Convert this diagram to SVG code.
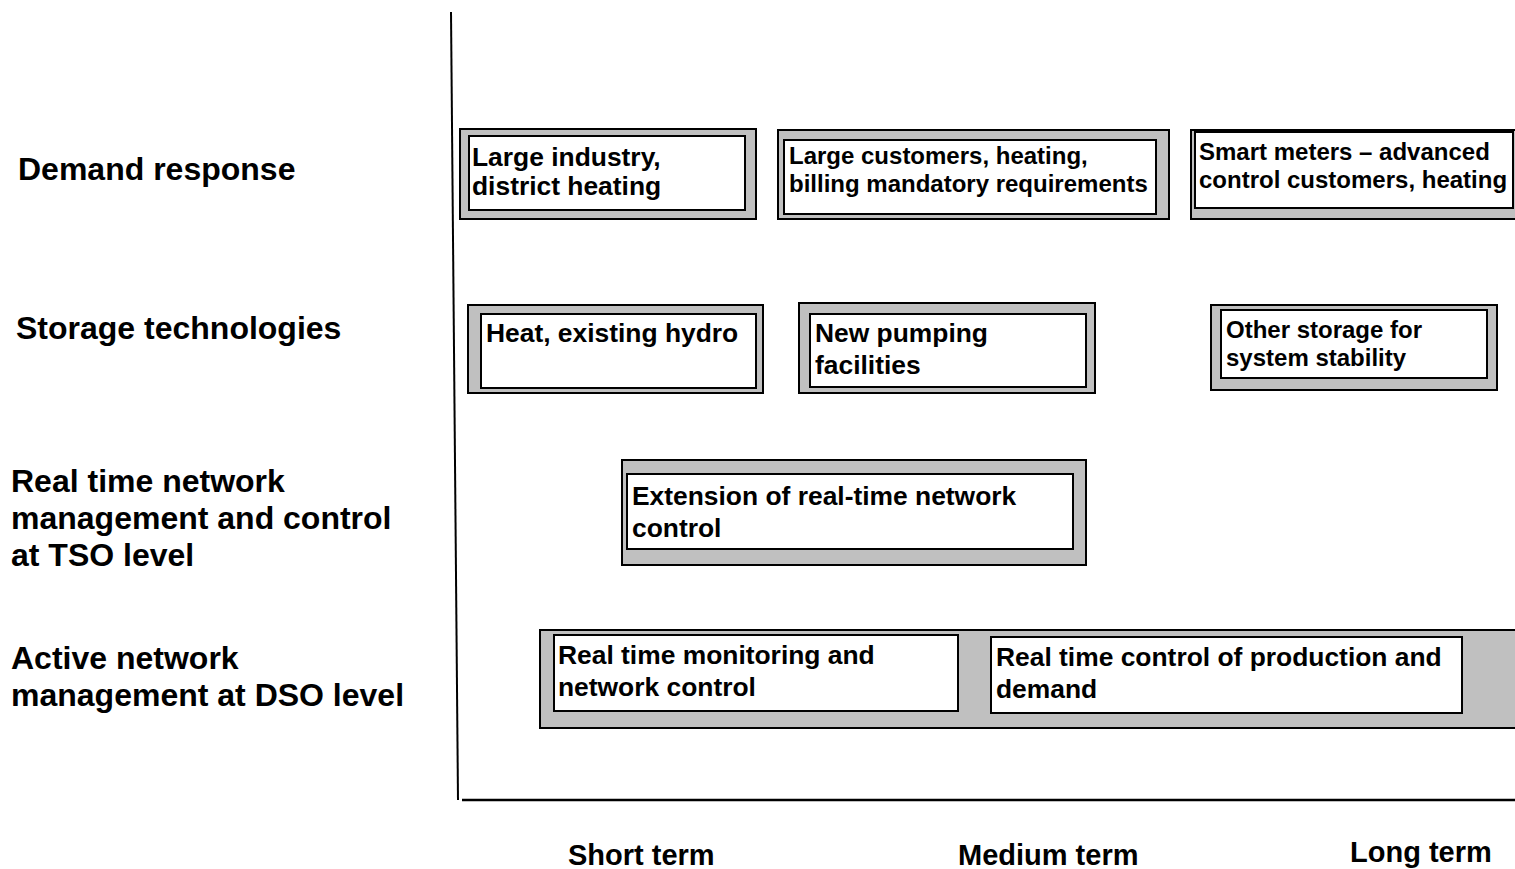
<svg xmlns="http://www.w3.org/2000/svg" width="1515" height="869" viewBox="0 0 1515 869">
  <style>
    .frame { fill: #c0c0c0; stroke: #000; stroke-width: 2; }
    .panel { fill: #fff; stroke: #000; stroke-width: 2; }
    .axis { stroke: #000; fill: none; }
    text { font-family: "Liberation Sans", Arial, Helvetica, sans-serif; font-weight: bold; fill: #000; }
    .row { font-size: 32px; }
    .big { font-size: 26.4px; }
    .small { font-size: 24px; }
    .term { font-size: 29px; }
  </style>

  <rect width="1515" height="869" fill="#fff"/>

  <!-- time axes -->
  <g id="axes">
    <line class="axis" x1="451" y1="12" x2="458" y2="800" stroke-width="2"/>
    <line class="axis" x1="462" y1="800" x2="1515" y2="800" stroke-width="2.5"/>
  </g>

  <!-- row headings -->
  <g id="row-labels">
    <text class="row" x="18" y="180">Demand response</text>
    <text class="row" x="16" y="339">Storage technologies</text>
    <text class="row" x="11" y="492">Real time network</text>
    <text class="row" x="11" y="529">management and control</text>
    <text class="row" x="11" y="566">at TSO level</text>
    <text class="row" x="11" y="669">Active network</text>
    <text class="row" x="11" y="706">management at DSO level</text>
  </g>

  <!-- horizon labels -->
  <g id="term-labels">
    <text class="term" x="568" y="865">Short term</text>
    <text class="term" x="958" y="865">Medium term</text>
    <text class="term" x="1350" y="862">Long term</text>
  </g>

  <!-- demand response -->
  <g id="dr-large-industry">
    <rect class="frame" x="460" y="129" width="296" height="90"/>
    <rect class="panel" x="469" y="136" width="276" height="74"/>
    <text class="big" x="472" y="166">Large industry,</text>
    <text class="big" x="472" y="195">district heating</text>
  </g>
  <g id="dr-large-customers">
    <rect class="frame" x="778" y="130" width="391" height="89"/>
    <rect class="panel" x="784" y="140" width="372" height="74"/>
    <text class="small" x="789" y="164">Large customers, heating,</text>
    <text class="small" x="789" y="192">billing mandatory requirements</text>
  </g>
  <g id="dr-smart-meters">
    <rect class="frame" x="1191" y="130" width="330" height="89"/>
    <rect class="panel" x="1195" y="132" width="318" height="76"/>
    <text class="small" x="1199" y="160">Smart meters – advanced</text>
    <text class="small" x="1199" y="188">control customers, heating</text>
  </g>

  <!-- storage technologies -->
  <g id="st-heat-hydro">
    <rect class="frame" x="468" y="305" width="295" height="88"/>
    <rect class="panel" x="481" y="314" width="275" height="74"/>
    <text class="big" x="486" y="342">Heat, existing hydro</text>
  </g>
  <g id="st-new-pumping">
    <rect class="frame" x="799" y="303" width="296" height="90"/>
    <rect class="panel" x="810" y="314" width="276" height="73"/>
    <text class="big" x="815" y="342">New pumping</text>
    <text class="big" x="815" y="374">facilities</text>
  </g>
  <g id="st-other-storage">
    <rect class="frame" x="1211" y="305" width="286" height="85"/>
    <rect class="panel" x="1221" y="310" width="266" height="68"/>
    <text class="small" x="1226" y="338">Other storage for</text>
    <text class="small" x="1226" y="366">system stability</text>
  </g>

  <!-- TSO level -->
  <g id="tso-extension">
    <rect class="frame" x="622" y="460" width="464" height="105"/>
    <rect class="panel" x="627" y="474" width="446" height="75"/>
    <text class="big" x="632" y="505">Extension of real-time network</text>
    <text class="big" x="632" y="537">control</text>
  </g>

  <!-- DSO level -->
  <g id="dso-band">
    <rect class="frame" x="540" y="630" width="985" height="98"/>
  </g>
  <g id="dso-monitoring">
    <rect class="panel" x="554" y="635" width="404" height="76"/>
    <text class="big" x="558" y="664">Real time monitoring and</text>
    <text class="big" x="558" y="696">network control</text>
  </g>
  <g id="dso-control">
    <rect class="panel" x="991" y="637" width="471" height="76"/>
    <text class="big" x="996" y="666">Real time control of production and</text>
    <text class="big" x="996" y="698">demand</text>
  </g>
</svg>
